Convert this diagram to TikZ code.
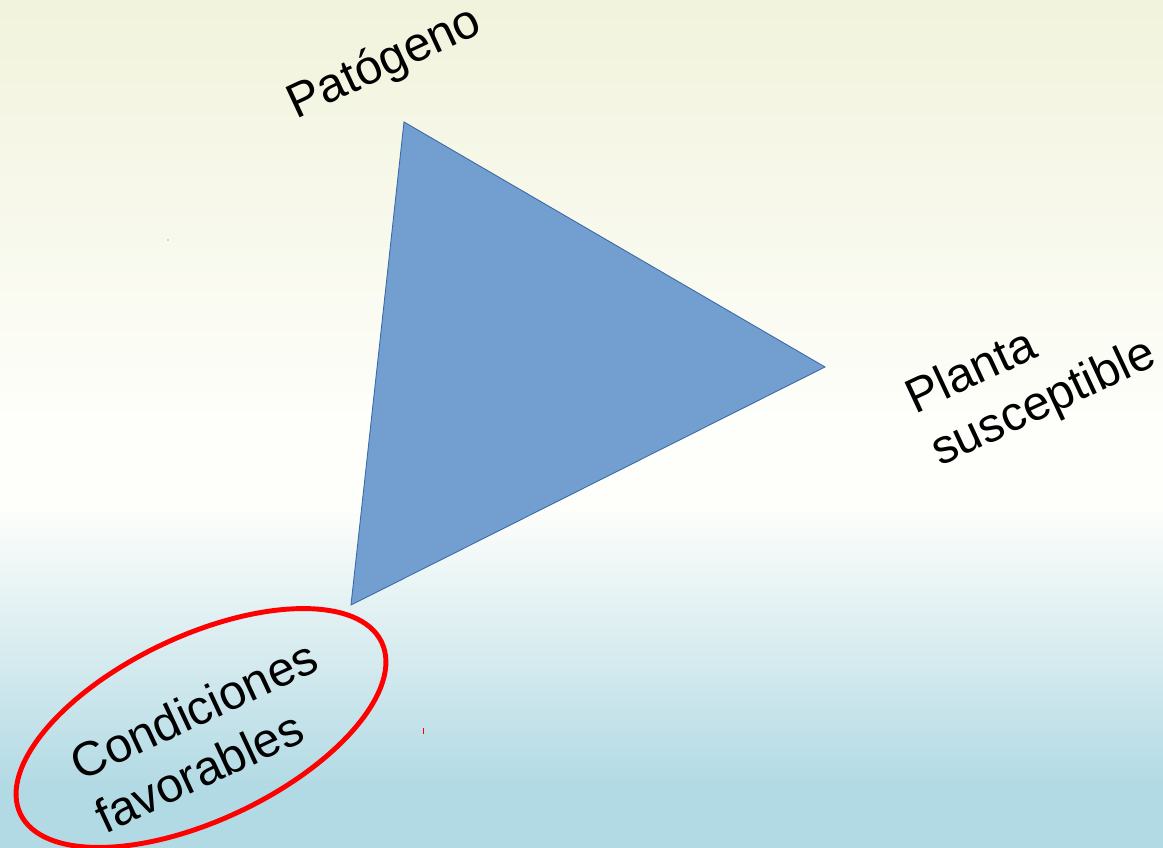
\documentclass[tikz,border=0pt]{standalone}
\usepackage{fontspec}
\setmainfont{Liberation Sans}
\definecolor{bgtop}{HTML}{F1F3DC}
\definecolor{bgmid}{HTML}{FEFEFB}
\definecolor{bgbot}{HTML}{B2DAE4}
\definecolor{trifill}{HTML}{729FCF}
\definecolor{triline}{HTML}{3A6AA8}
\tikzset{
  lbl/.style={font=\fontsize{27.5}{33}\selectfont, align=left, rotate=25, text=black, inner sep=0pt},
}
\begin{document}
\begin{tikzpicture}[x=0.02cm,y=0.02cm]
\useasboundingbox (0,0) rectangle (1163,848);
% background
\shade[top color=bgtop, bottom color=bgmid] (0,848) rectangle (1163,420);
\fill[bgmid] (0,420.5) rectangle (1163,340);
\shade[top color=bgmid, bottom color=bgbot] (0,340.5) rectangle (1163,60);
\fill[bgbot] (0,60.5) rectangle (1163,0);
% triangle
\coordinate (A) at (404,726);
\coordinate (B) at (825,481);
\coordinate (C) at (351,243);
\filldraw[fill=trifill, draw=triline, line width=0.5pt] (A) -- (B) -- (C) -- cycle;
% ellipse
\coordinate (E) at (201,120);
\draw[red, line width=2.8pt, rotate around={25.4:(E)}] (E) ellipse [x radius=200, y radius=92];
% labels
\node[lbl] (pat) at (385,784) {Patógeno};
\node[lbl] (pla) at (1032,470) {Planta\\susceptible};
\node[lbl] (con) at (206,112) {Condiciones\\favorables};
% small marks
\coordinate (m1) at (423,120);
\coordinate (m2) at (423,114);
\draw[red, line width=0.5pt] (m1) -- (m2);
\coordinate (m3) at (168,608);
\fill[triline] (m3) circle (0.6);
\end{tikzpicture}
\end{document}
